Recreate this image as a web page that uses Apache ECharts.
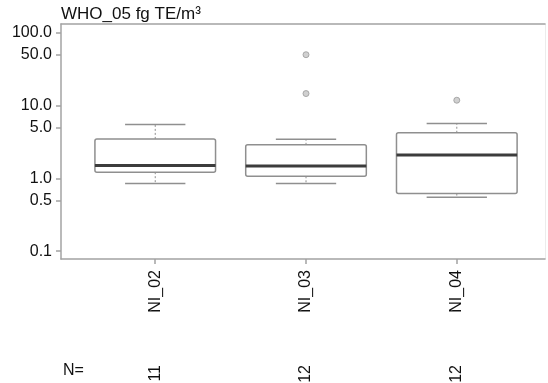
<!DOCTYPE html>
<html>
<head>
<meta charset="utf-8">
<script src="https://cdn.jsdelivr.net/npm/echarts@6/dist/echarts.min.js"></script>
<style>
  html, body { margin: 0; padding: 0; background: #fff; }
  #chart { width: 548px; height: 383px; }
</style>
</head>
<body>
<div id="chart"></div>
<script>
const categories = ["NI_02", "NI_03", "NI_04"];
const counts = [11, 12, 12];
// lower whisker, Q1, median, Q3, upper whisker
const boxStats = [
  [0.85, 1.22, 1.51, 3.5, 5.5],
  [0.85, 1.07, 1.48, 2.9, 3.45],
  [0.55, 0.62, 2.1, 4.25, 5.7],
];
const outliers = [[], [14.7, 50.3], [11.9]];
const yTicks = [0.1, 0.5, 1, 5, 10, 50, 100];
const yMin = 0.078;
const yMax = 133;

const FONT = "Liberation Sans, Arial, sans-serif";
const TEXT = "#111";
const AXIS_GRAY = "#a3a3a3";
const BOX_GRAY = "#8f8f8f";
const lg = (v) => Math.log10(v);
const xPos = categories.map((c, i) => i + 1);

const boxData = boxStats.map((s, i) => [xPos[i]].concat(s.map(lg)));
const outlierData = [];
outliers.forEach((list, i) => {
  list.forEach((v) => outlierData.push([xPos[i], lg(v)]));
});

const myChart = echarts.init(document.getElementById("chart"));

function renderBox(params, api) {
  const x = api.value(0);
  const lo = api.value(1), q1 = api.value(2), med = api.value(3), q3 = api.value(4), hi = api.value(5);
  const half = 0.4, cap = 0.2;
  const tl = api.coord([x - half, q3]);
  const br = api.coord([x + half, q1]);
  const c = (xx, yy) => api.coord([xx, yy]);
  const line = (a, b, style) => ({
    type: "line",
    shape: { x1: a[0], y1: a[1], x2: b[0], y2: b[1] },
    style: style,
  });
  const solid = { stroke: BOX_GRAY, lineWidth: 1.5 };
  const dotted = { stroke: BOX_GRAY, lineWidth: 1, lineDash: [2, 2] };
  return {
    type: "group",
    children: [
      line(c(x, q3), c(x, hi), dotted),
      line(c(x, q1), c(x, lo), dotted),
      line(c(x - cap, hi), c(x + cap, hi), solid),
      line(c(x - cap, lo), c(x + cap, lo), solid),
      {
        type: "rect",
        shape: { x: tl[0], y: tl[1], width: br[0] - tl[0], height: br[1] - tl[1], r: 2 },
        style: { fill: "#fff", stroke: BOX_GRAY, lineWidth: 1.5 },
      },
      line(c(x - half, med), c(x + half, med), { stroke: "#3c3c3c", lineWidth: 3 }),
    ],
  };
}

const labelBase = { fontSize: 16, color: TEXT, fontFamily: FONT };

myChart.setOption({
  animation: false,
  textStyle: { fontFamily: FONT },
  title: {
    text: "WHO_05 fg TE/m³",
    left: 61,
    top: 6,
    padding: 0,
    textStyle: { fontFamily: FONT, fontSize: 17, fontWeight: "normal", color: TEXT },
  },
  graphic: [
    {
      type: "text",
      left: 63,
      top: 363,
      style: { text: "N=", font: "16px " + FONT, fill: TEXT },
    },
  ],
  grid: { left: 61, right: 3, top: 24, bottom: 124, outerBoundsMode: "none" },
  xAxis: [
    {
      type: "value",
      min: 0.375,
      max: 3.585,
      position: "bottom",
      splitLine: { show: false },
      axisLine: { show: true, onZero: false, lineStyle: { color: AXIS_GRAY, width: 1.5 } },
      axisTick: { show: true, customValues: xPos, length: 5, lineStyle: { color: AXIS_GRAY, width: 1.5 } },
      axisLabel: Object.assign({}, labelBase, {
        customValues: xPos,
        rotate: 90,
        margin: 11,
        formatter: (v) => categories[Math.round(v) - 1],
      }),
    },
    {
      type: "value",
      min: 0.375,
      max: 3.585,
      position: "bottom",
      offset: 98,
      splitLine: { show: false },
      axisLine: { show: false, onZero: false },
      axisTick: { show: false },
      axisLabel: Object.assign({}, labelBase, {
        customValues: xPos,
        rotate: 90,
        margin: 8,
        formatter: (v) => String(counts[Math.round(v) - 1]),
      }),
    },
    {
      type: "value",
      min: 0.375,
      max: 3.585,
      position: "top",
      splitLine: { show: false },
      axisLine: { show: true, onZero: false, lineStyle: { color: AXIS_GRAY, width: 1.5 } },
      axisTick: { show: false },
      axisLabel: { show: false },
    },
  ],
  yAxis: [
    {
      type: "value",
      min: lg(yMin),
      max: lg(yMax),
      splitLine: { show: false },
      axisLine: { show: true, onZero: false, lineStyle: { color: AXIS_GRAY, width: 1.5 } },
      axisTick: { show: true, customValues: yTicks.map(lg), length: 5, lineStyle: { color: AXIS_GRAY, width: 1.5 } },
      axisLabel: Object.assign({}, labelBase, {
        customValues: yTicks.map(lg),
        margin: 9,
        formatter: (v) => Math.pow(10, v).toFixed(1),
      }),
    },
    {
      type: "value",
      min: lg(yMin),
      max: lg(yMax),
      position: "right",
      splitLine: { show: false },
      axisLine: { show: true, onZero: false, lineStyle: { color: "#ececec", width: 1 } },
      axisTick: { show: false },
      axisLabel: { show: false },
    },
  ],
  series: [
    {
      type: "custom",
      name: "box",
      renderItem: renderBox,
      data: boxData,
      encode: { x: 0, y: [1, 2, 3, 4, 5] },
      clip: false,
    },
    {
      type: "scatter",
      name: "outliers",
      data: outlierData,
      symbol: "circle",
      symbolSize: 6,
      itemStyle: { color: "#c4c4c4", borderColor: "#9a9a9a", borderWidth: 1 },
    },
  ],
});
</script>
</body>
</html>
